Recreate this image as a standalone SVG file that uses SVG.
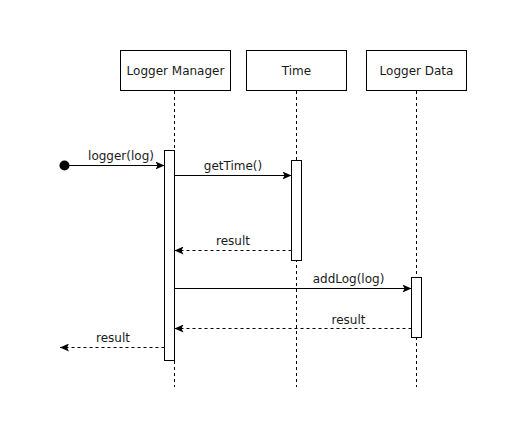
<svg xmlns="http://www.w3.org/2000/svg" width="517" height="442" viewBox="0 0 517 442">
<defs>
<style>
.box{fill:#fff;stroke:#000;stroke-width:1}
.life{stroke:#000;stroke-width:1;stroke-dasharray:3 3;fill:none}
.act{fill:#fff;stroke:#000;stroke-width:1}
.msg{stroke:#000;stroke-width:1;fill:none;marker-end:url(#arr)}
.ret{stroke:#000;stroke-width:1;fill:none;stroke-dasharray:3 3;marker-end:url(#arr)}
text{font-family:"DejaVu Sans",Verdana,sans-serif;font-size:12px;fill:#1a1a1a;text-anchor:middle}
</style>
<marker id="arr" viewBox="0 0 10 8" refX="9" refY="4" markerWidth="10" markerHeight="8" markerUnits="userSpaceOnUse" orient="auto">
<path d="M0,0 L9,4 L0,8 L2,4 z" fill="#000"/>
</marker>
</defs>
<rect width="517" height="442" fill="#fff"/>
<g id="lm">
<rect class="box" x="120.5" y="50.5" width="110" height="40"/>
<text x="175.5" y="74.5">Logger Manager</text>
<line class="life" x1="174.5" y1="91" x2="174.5" y2="387"/>
<rect class="act" x="164.5" y="150.5" width="10" height="210"/>
</g>
<g id="time">
<rect class="box" x="246.5" y="50.5" width="100" height="40"/>
<text x="296.5" y="74.5">Time</text>
<line class="life" x1="296.5" y1="91" x2="296.5" y2="387"/>
<rect class="act" x="291.5" y="160.5" width="10" height="100"/>
</g>
<g id="ld">
<rect class="box" x="366.5" y="50.5" width="100" height="40"/>
<text x="416.5" y="74.5">Logger Data</text>
<line class="life" x1="416.5" y1="91" x2="416.5" y2="387"/>
<rect class="act" x="411.5" y="277.5" width="10" height="60"/>
</g>
<g id="connectors">
<circle cx="64.5" cy="165.5" r="5" fill="#000"/>
<line class="msg" x1="64.5" y1="165.5" x2="164.5" y2="165.5"/>
<text x="121" y="159.5">logger(log)</text>
<line class="msg" x1="174.5" y1="175.5" x2="291.5" y2="175.5"/>
<text x="233" y="169.5">getTime()</text>
<line class="ret" x1="291.5" y1="250.5" x2="174.5" y2="250.5"/>
<text x="233" y="244.5">result</text>
<line class="msg" x1="174.5" y1="288.5" x2="411.5" y2="288.5"/>
<text x="348.5" y="282.5">addLog(log)</text>
<line class="ret" x1="411.5" y1="328.5" x2="174.5" y2="328.5"/>
<text x="348.5" y="323.5">result</text>
<line class="ret" x1="164.5" y1="347.5" x2="60" y2="347.5"/>
<text x="113" y="341.5">result</text>
</g>
</svg>
